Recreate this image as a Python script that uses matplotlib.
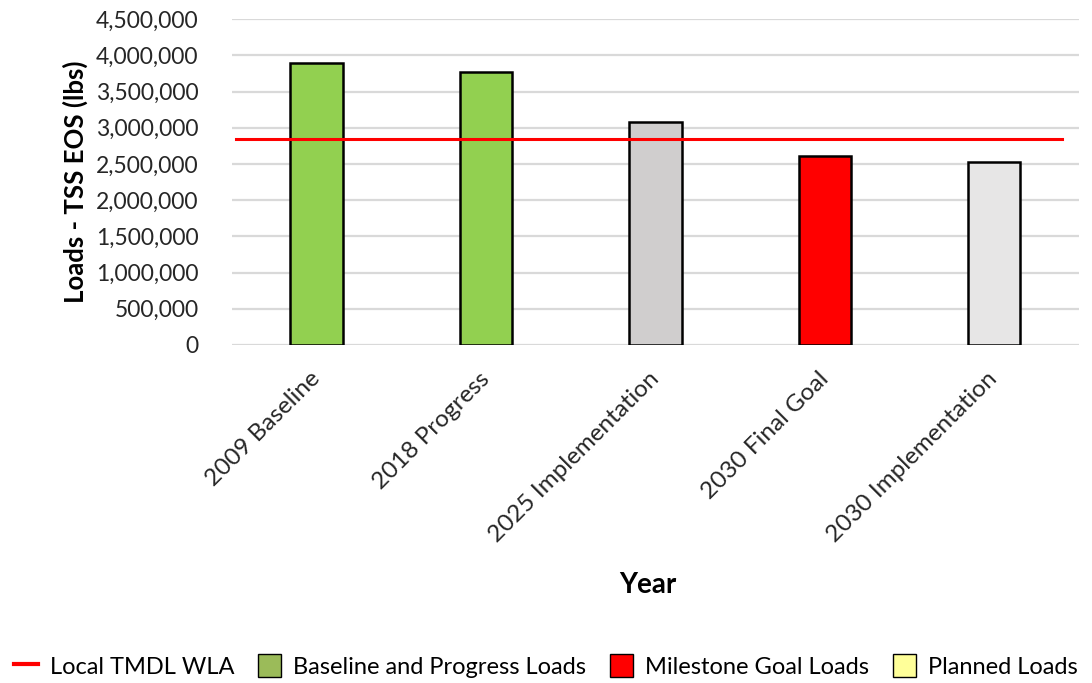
import matplotlib.pyplot as plt
from matplotlib.patches import Patch
from matplotlib.lines import Line2D

plt.rcParams['font.family'] = ['Lato', 'DejaVu Sans']

# data
categories = ["2009 Baseline", "2018 Progress", "2025 Implementation",
              "2030 Final Goal", "2030 Implementation"]
loads = [3900000, 3763000, 3082000, 2612000, 2533000]
bar_colors = ["#92D050", "#92D050", "#D0CECE", "#FF0000", "#E7E6E6"]
wla = 2840000
yticks = list(range(0, 4500001, 500000))

fig = plt.figure(figsize=(10.92, 6.83), dpi=100)
ax = fig.add_axes([0.2125, 0.495, 0.7755, 0.477])

x = range(len(categories))
ax.bar(x, loads, width=0.31, color=bar_colors, edgecolor="black",
       linewidth=1.8, zorder=3)
ax.axhline(wla, xmin=0.005, xmax=0.98, color="#FF0000", lw=2.2, zorder=4)

ax.set_xlim(-0.5, len(categories) - 0.5)
ax.set_ylim(0, 4500000)
ax.set_yticks(yticks)
ax.set_yticklabels([f"{v:,}" for v in yticks])
ax.set_xticks(list(x))
ax.set_xticklabels(categories, rotation=45, ha="right", va="center",
                   rotation_mode="anchor", fontsize=17.5)
ax.tick_params(axis="both", length=0, colors="#262626")
ax.tick_params(axis="y", labelsize=16.5, pad=24)
ax.tick_params(axis="x", pad=22)
ax.grid(axis="y", color="#D9D9D9", lw=1.6, zorder=0)
for s in ax.spines.values():
    s.set_visible(False)

ax.set_ylabel("Loads - TSS EOS (lbs)", fontsize=18.5, fontweight="bold", labelpad=6)
fig.text(0.593, 0.143, "Year", ha="center", va="center",
         fontsize=20, fontweight="bold")

handles = [
    Line2D([0], [0], color="#FF0000", lw=3),
    Patch(facecolor="#9BBB59", edgecolor="black"),
    Patch(facecolor="#FF0000", edgecolor="black"),
    Patch(facecolor="#FFFF99", edgecolor="black"),
]
labels = ["Local TMDL WLA", "Baseline and Progress Loads",
          "Milestone Goal Loads", "Planned Loads"]
fig.legend(handles, labels, loc="center", bbox_to_anchor=(0.5, 0.025),
           ncol=4, frameon=False, fontsize=17, handlelength=1.0,
           handleheight=1.1, handletextpad=0.5, columnspacing=1.0)

plt.savefig("out.png", dpi=100)
